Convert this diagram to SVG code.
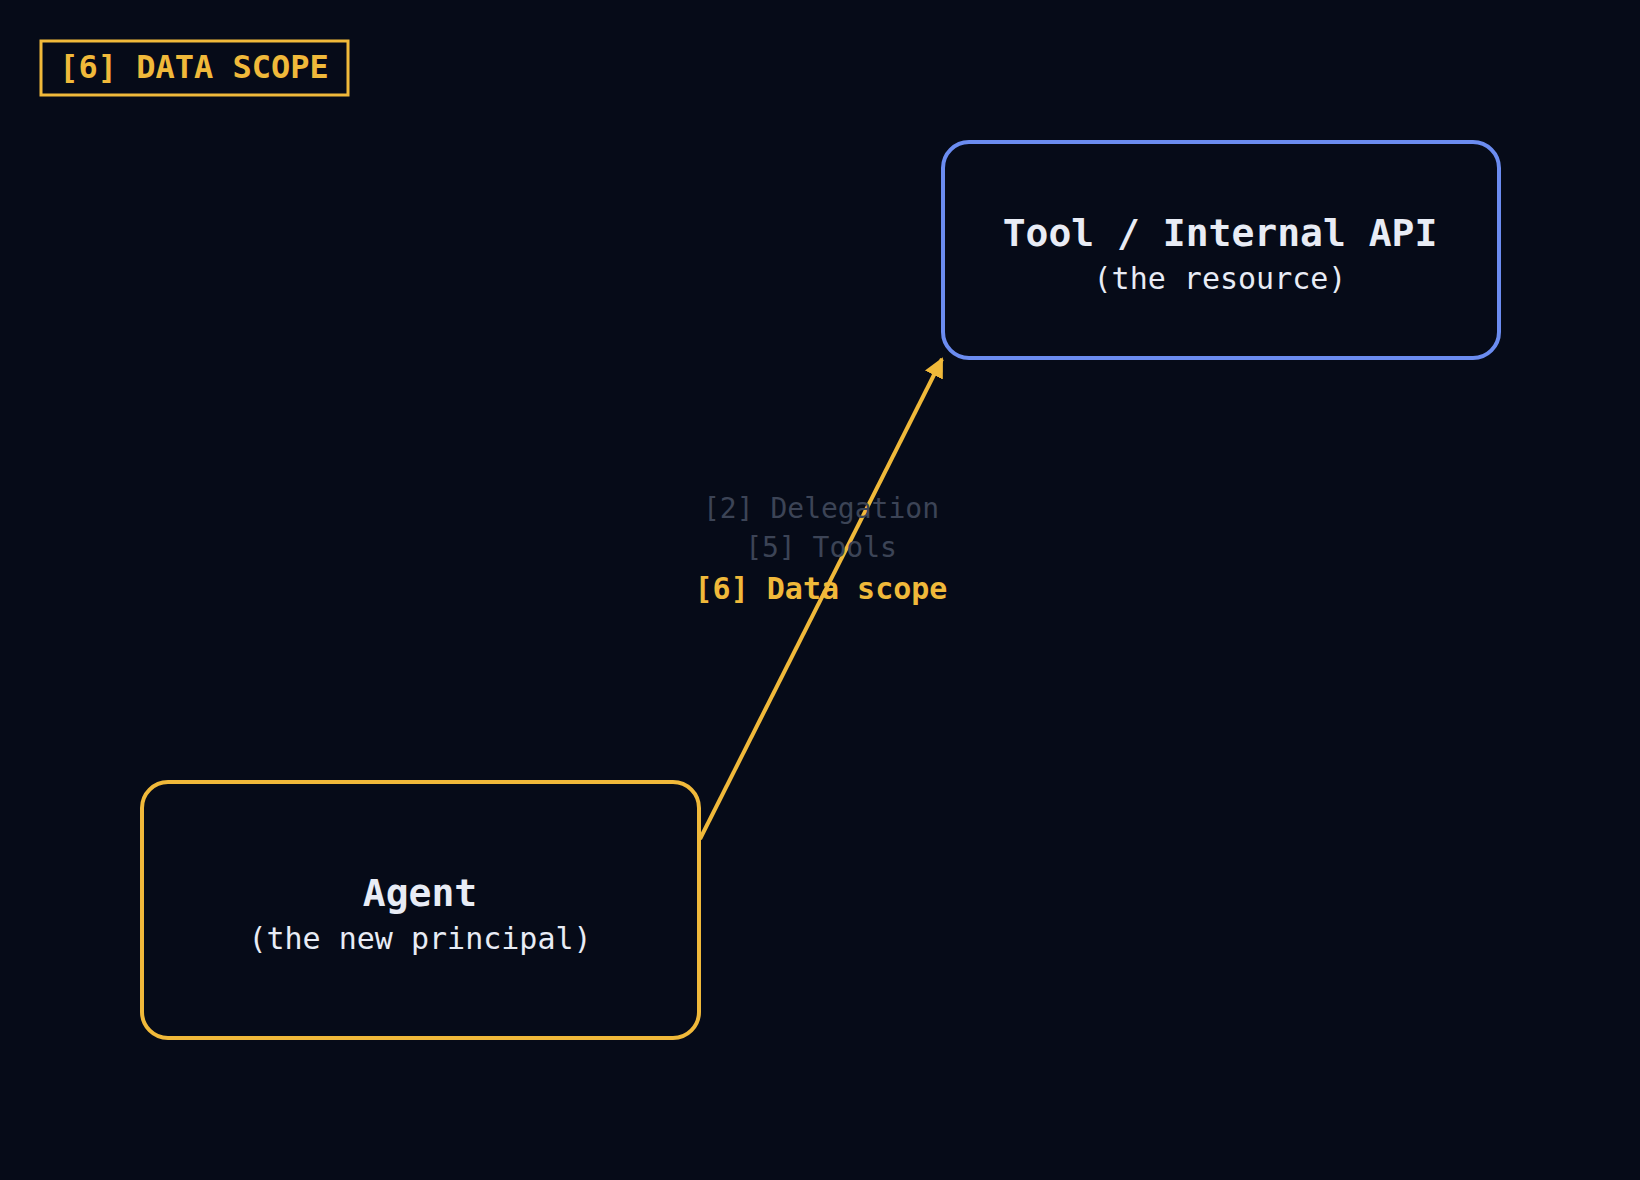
<svg xmlns="http://www.w3.org/2000/svg" width="1640" height="1180" viewBox="0 0 1640 1180">
<style>
.m{font-family:"DejaVu Sans Mono","Liberation Mono",monospace;text-anchor:middle}
.t{font-weight:bold;font-size:38px;fill:#e8ecf5}
.s{font-size:30px;fill:#e8ecf5}
.l{font-size:28px;fill:#3c4456}
</style>
<defs><marker id="ah" viewBox="0 0 10 10" refX="9" refY="5" markerWidth="5" markerHeight="5" orient="auto"><path d="M0,0L10,5L0,10z" fill="#f0b93a"/></marker></defs>
<rect width="1640" height="1180" fill="#060b18"/>
<g id="title"><rect x="41" y="41" width="307" height="54" fill="none" stroke="#f0b93a" stroke-width="3"/><text x="194" y="78" class="m" style="font-weight:bold;font-size:32px;fill:#f0b93a">[6] DATA SCOPE</text></g>
<g id="connectors"><line x1="700" y1="839" x2="942" y2="359" stroke="#f0b93a" stroke-width="4" marker-end="url(#ah)"/>
<text x="821" y="518" class="m l">[2] Delegation</text>
<text x="821" y="557" class="m l">[5] Tools</text>
<text x="821" y="599" class="m" style="font-weight:bold;font-size:30px;fill:#f0b93a">[6] Data scope</text></g>
<g id="tool"><rect x="943" y="142" width="556" height="216" rx="26" fill="#060b18" stroke="#6b8cf0" stroke-width="4"/><text x="1220" y="246" class="m t">Tool / Internal API</text><text x="1220" y="289" class="m s">(the resource)</text></g>
<g id="agent"><rect x="142" y="782" width="557" height="256" rx="26" fill="#060b18" stroke="#f0b93a" stroke-width="4"/><text x="420" y="906" class="m t">Agent</text><text x="420" y="949" class="m s">(the new principal)</text></g>
</svg>
